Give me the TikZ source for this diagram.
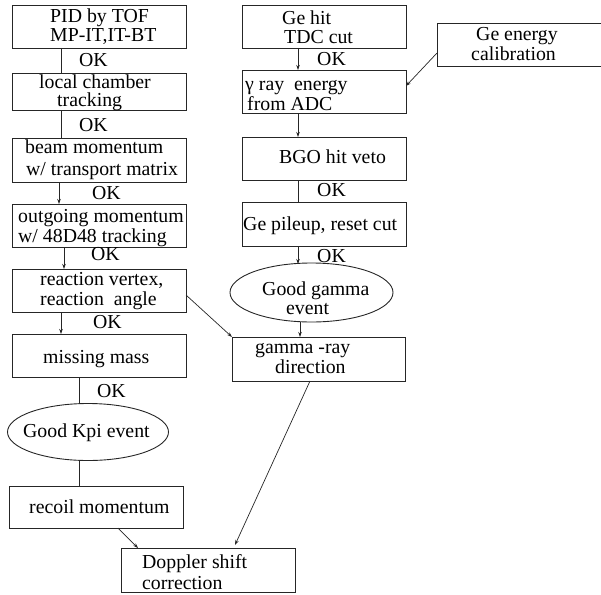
\documentclass[tikz,border=0pt]{standalone}
\usepackage{fontspec}
\setmainfont{Liberation Serif}
\usetikzlibrary{arrows.meta,shapes.geometric}
\begin{document}
\begin{tikzpicture}[x=1pt,y=-1pt,
  box/.style={draw=black!85,line width=0.9pt,inner sep=0pt,outer sep=0pt},
  oval/.style={draw=black!85,line width=0.9pt,ellipse,inner sep=0pt,outer sep=0pt},
  txt/.style={anchor=base west,inner sep=0pt,font=\fontsize{19.8}{21}\selectfont},
  conn/.style={draw=black!85,line width=0.7pt},
  arr/.style={conn,-{Stealth[length=5pt,width=3.5pt]}}]
\useasboundingbox (0,0) rectangle (601,594);
% left column boxes
\node[box,minimum width=174pt,minimum height=43pt] (b1) at (99,26.5) {};
\node[box,minimum width=174pt,minimum height=37pt] (b2) at (99,91.5) {};
\node[box,minimum width=174pt,minimum height=44pt] (b3) at (99,160) {};
\node[box,minimum width=174pt,minimum height=43pt] (b4) at (99,225.5) {};
\node[box,minimum width=174pt,minimum height=43pt] (b5) at (99,290.5) {};
\node[box,minimum width=174pt,minimum height=43pt] (b6) at (99,355.5) {};
\node[oval,minimum width=161pt,minimum height=57pt] (kpi) at (88,432) {};
\node[box,minimum width=174pt,minimum height=42pt] (rec) at (96,507) {};
\node[box,minimum width=174pt,minimum height=44pt] (dop) at (208,570) {};
% right column boxes
\node[box,minimum width=164pt,minimum height=43pt] (r1) at (324,26.5) {};
\node[box,minimum width=164pt,minimum height=43pt] (r2) at (324,91.5) {};
\node[box,minimum width=164pt,minimum height=43pt] (r3) at (324,158.5) {};
\node[box,minimum width=164pt,minimum height=44pt] (r4) at (324,224) {};
\node[oval,minimum width=163pt,minimum height=59pt] (gg) at (311.5,292.5) {};
\node[box,minimum width=173pt,minimum height=44pt] (r5) at (318.5,359) {};
\node[box,minimum width=164pt,minimum height=43pt] (cal) at (519,44.5) {};
% texts
\node[txt] (t1a) at (50,22.7) {PID by TOF};
\node[txt] (t1b) at (50,41.7) {MP-IT,IT-BT};
\node[txt] (t2a) at (39,88) {local chamber};
\node[txt] (t2b) at (57,106) {tracking};
\node[txt] (t3a) at (25,153) {beam momentum};
\node[txt] (t3b) at (26,175) {w/ transport matrix};
\node[txt] (t4a) at (18,222) {outgoing momentum};
\node[txt] (t4b) at (18,242) {w/ 48D48 tracking};
\node[txt] (t5a) at (40,285.7) {reaction vertex,};
\node[txt] (t5b) at (40,305) {reaction\ \ angle};
\node[txt] (t6) at (43,363) {missing mass};
\node[txt] (tk) at (23,437) {Good Kpi event};
\node[txt] (tr) at (29,513) {recoil momentum};
\node[txt] (tda) at (142,568) {Doppler shift};
\node[txt] (tdb) at (142,589) {correction};
\node[txt] (r1a) at (282,25) {Ge hit};
\node[txt] (r1b) at (284,44) {TDC cut};
\node[txt] (r2a) at (245,90) {γ ray\ \ energy};
\node[txt] (r2b) at (247,110) {from ADC};
\node[txt] (r3t) at (279,163) {BGO hit veto};
\node[txt] (r4t) at (243,230) {Ge pileup, reset cut};
\node[txt] (gga) at (262,295) {Good gamma};
\node[txt] (ggb) at (286,314) {event};
\node[txt] (r5a) at (255,353) {gamma -ray};
\node[txt] (r5b) at (275,373) {direction};
\node[txt] (cala) at (476,41) {Ge energy};
\node[txt] (calb) at (471,60) {calibration};
% OK labels
\node[txt] (ok1) at (79,66.7) {OK};
\node[txt] (ok2) at (79,131.7) {OK};
\node[txt] (ok3) at (92,199) {OK};
\node[txt] (ok4) at (91,260) {OK};
\node[txt] (ok5) at (93,328) {OK};
\node[txt] (ok6) at (97,397) {OK};
\node[txt] (ok7) at (317,65) {OK};
\node[txt] (ok8) at (317,196) {OK};
\node[txt] (ok9) at (317,262) {OK};
% connectors left
\draw[conn] (b1.south -| 61,0) -- (b2.north -| 61,0);
\draw[conn] (b2.south -| 61,0) -- (b3.north -| 61,0);
\draw[arr] (b3.south -| 59,0) -- (b4.north -| 59,0);
\draw[arr] (b4.south -| 64,0) -- (b5.north -| 64,0);
\draw[arr] (b5.south -| 61,0) -- (b6.north -| 61,0);
\draw[conn] (b6.south -| 79,0) -- (kpi.north -| 79,0);
\draw[conn] (kpi.south -| 79,0) -- (rec.north -| 79,0);
\draw[arr] (rec.south -| 118,0) -- (dop.north -| 138,0);
% connectors right
\draw[arr] (r1.south -| 298,0) -- (r2.north -| 298,0);
\draw[arr] (r2.south -| 298,0) -- (r3.north -| 298,0);
\draw[conn] (r3.south -| 298,0) -- (r4.north -| 298,0);
\draw[arr] (r4.south -| 298,0) -- ([yshift=-1pt]gg.north -| 298,0);
\draw[arr] (gg.south -| 300,0) -- (r5.north -| 300,0);
\draw[arr] (b5.east |- 0,295) -- (r5.north west);
\draw[arr] (r5.south -| 310,0) -- ([yshift=3pt]dop.north -| 235,0);
\draw[arr] (cal.west |- 0,53) -- (r2.east |- 0,86);
\end{tikzpicture}
\end{document}
